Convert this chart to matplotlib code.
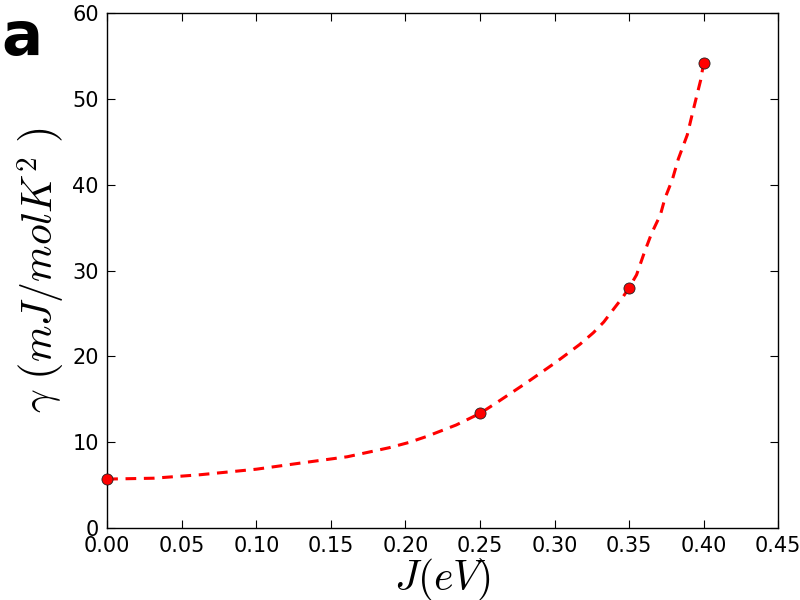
import matplotlib
matplotlib.use('Agg')
import matplotlib.pyplot as plt

plt.rcParams['mathtext.fontset'] = 'cm'

# calculated points
J = [0.0, 0.25, 0.35, 0.40]
gamma = [5.7, 13.35, 28.0, 54.2]

# dashed guide curve
J_curve = [0.0, 0.031, 0.062, 0.100, 0.129, 0.161, 0.189, 0.202, 0.214, 0.234,
           0.250, 0.262, 0.281, 0.300, 0.307, 0.317, 0.326, 0.333, 0.340, 0.346,
           0.350, 0.355, 0.360, 0.365, 0.371, 0.374, 0.379, 0.383, 0.389, 0.393,
           0.398, 0.400]
gamma_curve = [5.7, 5.8, 6.2, 6.85, 7.55, 8.3, 9.35, 9.95, 10.65, 12.0,
               13.35, 14.7, 16.9, 19.2, 20.1, 21.4, 22.75, 24.0, 25.6, 26.95,
               28.0, 29.5, 32.0, 34.3, 36.5, 38.4, 40.6, 43.0, 45.8, 48.7,
               52.2, 54.2]

fig = plt.figure(figsize=(8, 6), dpi=100)
ax = fig.add_axes([0.134, 0.12, 0.8388, 0.8583])

ax.plot(J_curve, gamma_curve, color='red', linestyle='--', linewidth=2.2,
        dashes=(3.5, 2.5))
ax.plot(J, gamma, 'o', color='red', markeredgecolor='#222222',
        markeredgewidth=0.6, markersize=8, clip_on=False, zorder=3)

ax.set_xlim(0, 0.45)
ax.set_ylim(0, 60)
ax.set_xticks([0.0, 0.05, 0.10, 0.15, 0.20, 0.25, 0.30, 0.35, 0.40, 0.45])
ax.set_xticklabels(['0.00', '0.05', '0.10', '0.15', '0.20', '0.25', '0.30',
                    '0.35', '0.40', '0.45'])
ax.set_yticks([0, 10, 20, 30, 40, 50, 60])

ax.tick_params(direction='in', top=True, right=True, length=6, width=0.8,
               labelsize=15, pad=6)
for s in ax.spines.values():
    s.set_linewidth(1.0)

ax.set_xlabel(r'$J(eV)$', fontsize=30, labelpad=0)
ax.set_ylabel(r'$\gamma\ \left(mJ/molK^2\ \right)$', fontsize=30, labelpad=4)

fig.text(0.002, 0.908, 'a', fontsize=44, fontweight='bold', va='baseline')

fig.savefig('out.png', dpi=100)
